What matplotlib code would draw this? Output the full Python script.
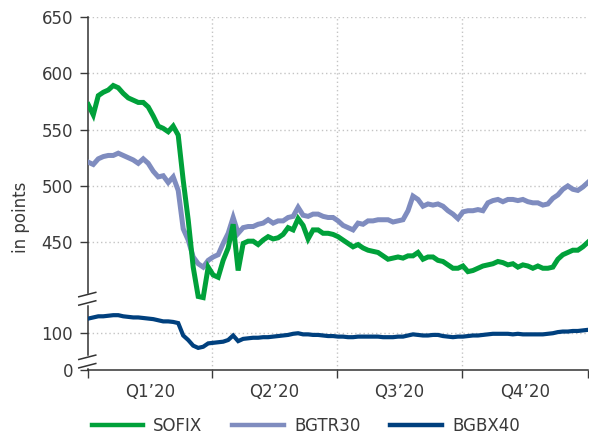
import numpy as np
import pandas as pd
import matplotlib
matplotlib.use("Agg")
import matplotlib.pyplot as plt

# index levels (roughly every 3.6 days through 2020)
sofix = [572, 563, 580, 583, 585, 589, 587, 582, 578, 576,
         574, 574, 570, 562, 553, 551, 548, 553, 545, 505,
         470, 428, 402, 401, 428, 421, 419, 434, 445, 466,
         425, 449, 451, 451, 448, 452, 455, 453, 454, 457,
         463, 461, 471, 465, 453, 461, 461, 458, 458, 457,
         455, 452, 449, 446, 448, 445, 443, 442, 441, 438,
         435, 436, 437, 436, 438, 438, 441, 435, 437, 437,
         434, 433, 430, 427, 427, 429, 424, 425, 427, 429,
         430, 431, 433, 432, 430, 431, 428, 430, 429, 427,
         429, 427, 427, 428, 435, 439, 441, 443, 443, 446,
         450]
bgtr30 = [521, 519, 524, 526, 527, 527, 529, 527, 525, 523,
          520, 524, 520, 513, 508, 509, 503, 508, 496, 462,
          452, 437, 431, 428, 434, 437, 439, 449, 458, 472,
          458, 463, 464, 464, 466, 467, 470, 467, 469, 469,
          472, 473, 481, 474, 473, 475, 475, 473, 472, 472,
          469, 465, 463, 461, 467, 466, 469, 469, 470, 470,
          470, 468, 469, 470, 478, 491, 488, 482, 484, 483,
          484, 482, 478, 475, 471, 477, 478, 478, 479, 478,
          485, 487, 488, 486, 488, 488, 487, 488, 486, 485,
          485, 483, 484, 489, 492, 497, 500, 497, 496, 499,
          503]
bgbx40 = [113, 114, 115, 115, 115.5, 116, 116, 115, 114.5, 114,
          114, 113.5, 113, 112.5, 111.5, 110.5, 110.5, 110, 109, 98,
          94, 89, 87, 88, 91, 91.5, 92, 92.5, 94, 98,
          93, 95, 95.5, 96, 96, 96.5, 96.5, 97, 97.5, 98,
          98.5, 99.5, 100, 99, 99, 98.5, 98.5, 98, 97.5, 97.5,
          97, 97, 96.5, 96.5, 97, 97, 97, 97, 97, 96.5,
          96.5, 96.5, 97, 97, 98, 99, 98.5, 98, 98, 98.5,
          98.5, 97.5, 97, 96.5, 97, 97, 97.5, 98, 98, 98.5,
          99, 99.5, 99.5, 99.5, 99.5, 99, 99.5, 99, 99, 99,
          99, 99, 99.5, 100, 101, 101.5, 101.5, 102, 102, 102.5,
          103]
dates = pd.date_range("2020-01-01", "2021-01-01", periods=len(sofix))

names = ["SOFIX", "BGTR30", "BGBX40"]
colors = ["#00a13a", "#7f8cbf", "#00407e"]
y_ticks = [0, 100, 450, 500, 550, 600, 650]
quarter_labels = ["Q1\u201920", "Q2\u201920", "Q3\u201920", "Q4\u201920"]
quarter_edges = pd.to_datetime(["2020-01-01", "2020-04-01", "2020-07-01",
                                "2020-10-01", "2021-01-01"])

# broken y axis: three linear pieces glued together
seg_val = [0, 7.5, 75, 130.5, 400, 650]
seg_pos = [0, 7.5, 7.6, 63.1, 63.2, 313.2]


def fwd(v):
    return np.interp(v, seg_val, seg_pos)


def inv(p):
    return np.interp(p, seg_pos, seg_val)


txt = "#3a3a3a"
plt.rcParams["font.family"] = ["DejaVu Sans"]
plt.rcParams["font.size"] = 12

fig = plt.figure(figsize=(5.89, 4.37), dpi=100)
left, right, bottom, top = 0.1499, 0.998, 0.1533, 0.9618
ax = fig.add_axes([left, bottom, right - left, top - bottom])
ax.set_yscale("function", functions=(fwd, inv))
ax.set_ylim(0, 650)
ax.set_xlim(quarter_edges[0], quarter_edges[-1])

# grid
for v in y_ticks[1:]:
    ax.axhline(v, color="#c4c4c4", lw=1, ls=(0, (1, 2)), zorder=1)
for d in quarter_edges[1:-1]:
    ax.axvline(d, color="#c4c4c4", lw=1, ls=(0, (1, 2)), zorder=1)

ax.plot(dates, bgbx40, color=colors[2], lw=3.0, zorder=3, solid_joinstyle="miter")
ax.plot(dates, bgtr30, color=colors[1], lw=3.6, zorder=3, solid_joinstyle="miter")
ax.plot(dates, sofix, color=colors[0], lw=3.6, zorder=4, solid_joinstyle="miter")

ax.set_yticks(y_ticks)
ax.set_yticklabels([str(v) for v in y_ticks])
ax.tick_params(axis="y", length=5.5, width=1, pad=5.5, colors=txt, labelsize=12)

ax.set_xticks(quarter_edges)
ax.set_xticklabels([])
mids = quarter_edges[:-1] + (quarter_edges[1:] - quarter_edges[:-1]) / 2
ax.set_xticks(mids, minor=True)
ax.set_xticklabels(quarter_labels, minor=True)
ax.tick_params(axis="x", which="major", length=5.5, width=1, colors=txt)
ax.tick_params(axis="x", which="minor", length=0, pad=9, colors=txt, labelsize=12)

for s in ["top", "right"]:
    ax.spines[s].set_visible(False)
for s in ["left", "bottom"]:
    ax.spines[s].set_color("#333333")
    ax.spines[s].set_linewidth(1.1)

# break marks on the y axis
ax_w = (right - left) * 589
ax_h = (top - bottom) * 437
total = seg_pos[-1]
for c in [(seg_pos[1] + seg_pos[2]) / 2, (seg_pos[3] + seg_pos[4]) / 2]:
    yc = c / total
    gap = 4.2 / ax_h
    ax.plot([0, 0], [yc - gap, yc + gap], color="white", lw=2.5,
            transform=ax.transAxes, clip_on=False, zorder=5)
    for off in (-gap, gap):
        ax.plot([-9.5 / ax_w, 7.5 / ax_w],
                [yc + off - 2.2 / ax_h, yc + off + 2.2 / ax_h],
                color="#333333", lw=1.1, transform=ax.transAxes,
                clip_on=False, zorder=6)

fig.text(0.036, 0.503, "in points", rotation=90, ha="center", va="center",
         color=txt, fontsize=12)

handles = [plt.Line2D([], [], color=c, lw=3.2) for c in colors]
fig.legend(handles, names, loc="center", bbox_to_anchor=(0.519, 0.025),
           ncol=3, frameon=False, handlelength=3.1, handletextpad=0.6,
           columnspacing=1.8, labelcolor=txt, fontsize=12)

fig.savefig("out.png", dpi=100)
